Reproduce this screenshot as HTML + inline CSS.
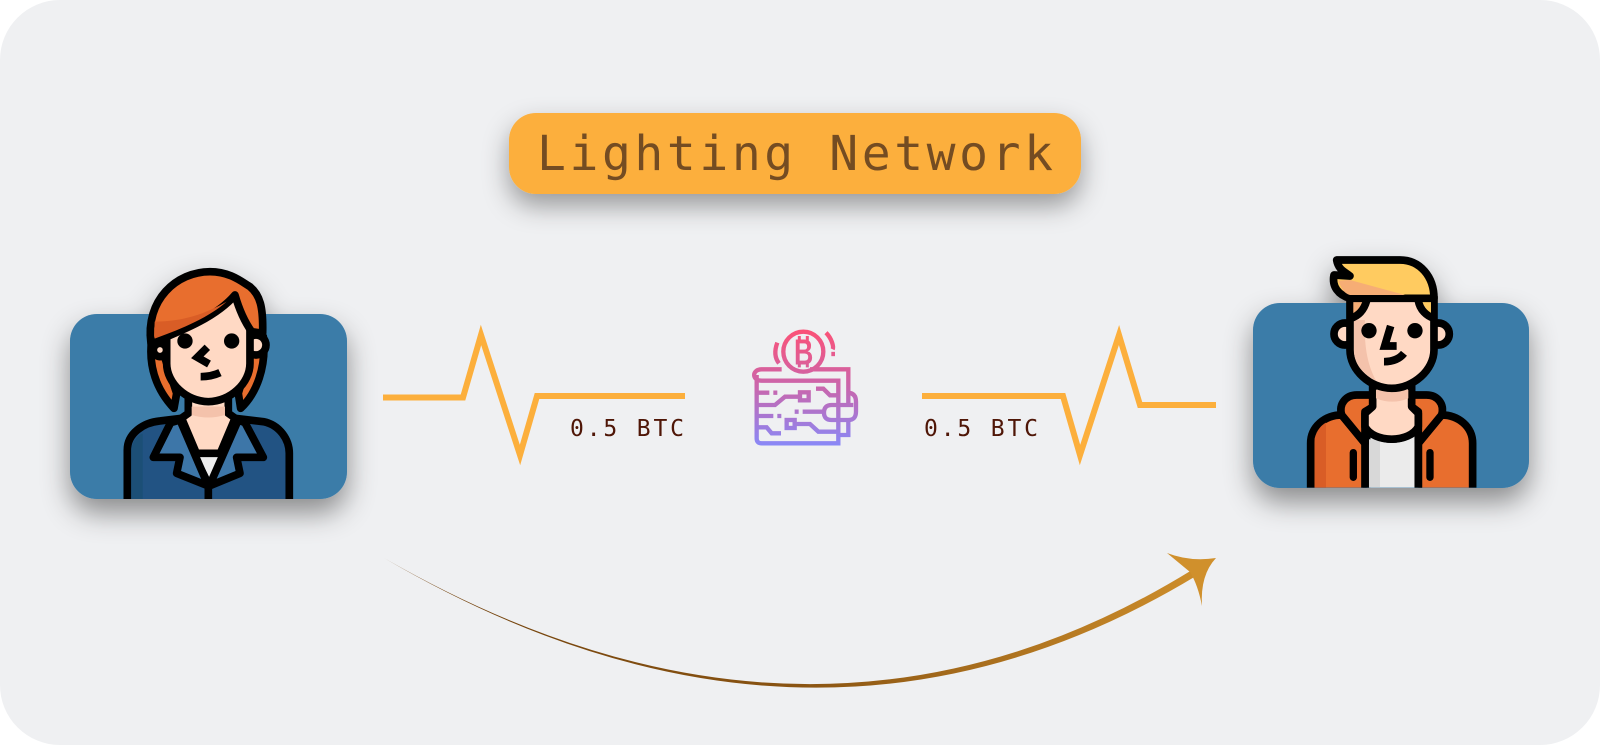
<!DOCTYPE html>
<html><head><meta charset="utf-8"><style>
html,body{margin:0;padding:0;background:#fff;width:1600px;height:745px;overflow:hidden}
svg{display:block}
text{font-family:"DejaVu Sans Mono",monospace}
</style></head><body>
<svg width="1600" height="745" viewBox="0 0 1600 745" xmlns="http://www.w3.org/2000/svg">
<defs>
<filter id="s1" x="-30%" y="-30%" width="160%" height="170%"><feDropShadow dx="0" dy="14" stdDeviation="14" flood-color="#000" flood-opacity=".42"/></filter>
<filter id="s2" x="-20%" y="-60%" width="140%" height="240%"><feDropShadow dx="0" dy="12" stdDeviation="13" flood-color="#000" flood-opacity=".36"/></filter>
<linearGradient id="cg" gradientUnits="userSpaceOnUse" x1="384" y1="600" x2="1216" y2="600"><stop offset="0" stop-color="#6e3f0c"/><stop offset=".5" stop-color="#8a5412"/><stop offset="1" stop-color="#d0902c"/></linearGradient>
<linearGradient id="wg" gradientUnits="userSpaceOnUse" x1="0" y1="60" x2="0" y2="405"><stop offset="0" stop-color="#fb5277"/><stop offset=".5" stop-color="#c966ad"/><stop offset="1" stop-color="#8a88f6"/></linearGradient>
<clipPath id="c1"><rect x="0" y="0" width="930" height="777"/></clipPath>
<clipPath id="c2"><rect x="0" y="0" width="930" height="773"/></clipPath>
</defs>
<rect x="0" y="0" width="1600" height="745" rx="60" fill="#eff0f2"/>

<rect x="509" y="113" width="572" height="81" rx="27" fill="#fcaf3c" filter="url(#s2)"/>
<text x="537" y="170" font-size="48" fill="#744c22" textLength="516" lengthAdjust="spacing">Lighting Network</text>

<polyline points="383,397.5 463,397.5 481,335 520,455 537,396 685,396" fill="none" stroke="#fcaf3c" stroke-width="6" stroke-miterlimit="10"/>
<text x="570" y="436" font-size="23" fill="#4f1607" textLength="114" lengthAdjust="spacing">0.5 BTC</text>
<polyline points="922,396 1063,396 1080,455 1119,335 1140,405 1216,405" fill="none" stroke="#fcaf3c" stroke-width="6" stroke-miterlimit="10"/>
<text x="924" y="436" font-size="23" fill="#4f1607" textLength="114" lengthAdjust="spacing">0.5 BTC</text>

<path d="M384,558 Q812,804 1192,570 L1196,576 Q812,808 384,558Z" fill="url(#cg)"/>
<path d="M1167,553 Q1190,562 1216,558 Q1200,575 1202,606 Q1198,585 1190,572Z" fill="#d0902c"/>

<!-- woman -->
<g filter="url(#s1)">
<rect x="70" y="314" width="277" height="185" rx="27" fill="#3a7ba8"/>
<g transform="translate(50,240) scale(.3333)" stroke="#000" stroke-width="23" stroke-linejoin="round" clip-path="url(#c1)">
<path d="M305,300 C295,380 320,450 372,505 L380,460 L340,340Z" fill="#e86e2f"/>
<path d="M640,290 C650,380 620,460 572,505 L565,460 L600,340Z" fill="#e86e2f"/>
<circle cx="618" cy="315" r="30" fill="#ffd9c4"/>
<circle cx="330" cy="330" r="20" fill="#ffd9c4"/>
<path d="M415,470 L415,520 L380,545 L475,715 L570,545 L535,520 L535,470Z" fill="#ffd9c4"/>
<path d="M425,500 L525,500 L525,525 Q475,540 425,525Z" fill="#f4c2ab" stroke="none"/>
<path d="M350,290 L350,370 C350,430 410,485 475,485 C540,485 600,430 600,370 L600,240 L555,165Z" fill="#ffd9c4"/>
<path d="M303,310 C285,180 380,95 480,95 C540,95 575,125 600,140 C630,165 640,200 638,280 L605,275 C580,240 565,200 555,165 C500,230 400,270 303,310Z" fill="#e86e2f"/>
<path d="M314,296 L314,245 C400,245 470,220 530,185 C480,230 400,265 314,296Z" fill="#d95d26" stroke="none"/>
<circle cx="405" cy="303" r="23" fill="#000" stroke="none"/>
<circle cx="545" cy="303" r="23" fill="#000" stroke="none"/>
<polyline points="472,322 442,352 477,372" fill="none" stroke-linejoin="miter"/>
<path d="M452,410 C480,410 495,405 510,398" fill="none"/>
<path d="M232,790 L232,630 C232,580 280,548 330,543 L395,535 L475,725 L555,535 L640,545 C690,555 718,600 718,640 L718,790Z" fill="#215383"/>
<path d="M244,790 L244,625 C250,600 265,585 278,580 L278,790Z" fill="#1e4f76" stroke="none"/>
<path d="M445,645 L508,645 L478,712Z" fill="#eee" stroke="none"/>
<path d="M445,640 L508,640" fill="none"/>
<path d="M362,548 L310,652 L390,652 L380,700 L475,738 L390,540Z" fill="#3d76a8"/>
<path d="M585,548 L640,652 L560,652 L570,700 L478,738 L565,540Z" fill="#3d76a8"/>
<line x1="475" y1="735" x2="475" y2="790"/>
</g>
</g>

<!-- man -->
<g filter="url(#s1)">
<rect x="1253" y="303" width="276" height="185" rx="27" fill="#3a7ba8"/>
<g transform="translate(1210,230) scale(.3333)" stroke="#000" stroke-width="23" stroke-linejoin="round" clip-path="url(#c2)">
<path d="M302,790 L302,640 C302,590 345,555 395,555 L465,640 L465,790Z" fill="#e86e2f"/>
<path d="M788,790 L788,640 C788,590 745,555 695,555 L625,640 L625,790Z" fill="#e86e2f"/>
<path d="M314,790 L314,625 C320,600 335,585 348,578 L348,790Z" fill="#d95d26" stroke="none"/>
<path d="M470,590 C500,640 590,640 625,590 L625,790 L470,790Z" fill="#ebebeb"/>
<rect x="477" y="628" width="33" height="160" fill="#d8d8d8" stroke="none"/>
<path d="M395,555 C385,520 410,495 440,495 L490,495 L490,530 L465,545 L465,640Z" fill="#e86e2f"/>
<path d="M695,555 C705,520 680,495 650,495 L605,495 L605,530 L625,545 L625,640Z" fill="#e86e2f"/>
<path d="M488,460 L488,530 L465,550 L465,590 C490,640 600,640 625,590 L625,550 L605,530 L605,460Z" fill="#ffd9c4"/>
<path d="M498,480 L595,480 L595,505 Q547,525 498,505Z" fill="#f4c2ab" stroke="none"/>
<line x1="430" y1="668" x2="430" y2="742" stroke-width="22" stroke-linecap="round"/>
<line x1="660" y1="668" x2="660" y2="742" stroke-width="22" stroke-linecap="round"/>
<circle cx="405" cy="312" r="33" fill="#ffd9c4"/>
<circle cx="685" cy="312" r="33" fill="#ffd9c4"/>
<path d="M420,200 L420,360 C420,420 480,475 545,475 C610,475 672,420 672,360 L672,200Z" fill="#ffd9c4"/>
<path d="M432,270 L465,270 C462,340 470,400 498,452 C455,430 432,400 432,360Z" fill="#f4c2ab" stroke="none"/>
<path d="M430,215 L462,215 L430,258Z" fill="#f6ad74" stroke="none"/>
<path d="M635,215 L663,215 L663,258Z" fill="#ffcb60" stroke="none"/>
<path d="M470,212 C462,240 445,258 422,265" fill="none"/>
<path d="M625,212 C630,240 650,258 672,265" fill="none"/>
<path d="M380,90 L570,90 C630,90 672,140 672,205 L420,205 C385,195 365,170 372,135 L420,138 C405,125 385,120 380,90Z" fill="#ffcb60"/>
<path d="M385,152 L420,150 L585,195 L420,195 C400,190 392,170 385,152Z" fill="#f6ad74" stroke="none"/>
<circle cx="477" cy="302" r="23" fill="#000" stroke="none"/>
<circle cx="615" cy="302" r="23" fill="#000" stroke="none"/>
<polyline points="542,288 524,348 560,348" fill="none" stroke-linejoin="miter"/>
<path d="M522,395 C550,395 570,385 582,370" fill="none"/>
</g>
</g>

<!-- wallet -->
<g transform="translate(720,310) scale(.3333)" fill="none" stroke="url(#wg)" stroke-width="13">
<circle cx="250" cy="125" r="60"/>
<path d="M172,98 C162,125 165,145 177,160"/>
<path d="M318,68 C335,85 342,110 338,118"/>
<line x1="334" y1="132" x2="345" y2="132"/>
<text x="222" y="163" font-size="108" font-weight="700" style="font-family:'Liberation Sans',sans-serif" stroke="none" fill="url(#wg)" textLength="58" lengthAdjust="spacingAndGlyphs">B</text>
<path d="M238,78 V92 M262,78 V92 M238,160 V172 M262,160 V172" stroke-width="9"/>
<path d="M185,178 L125,178 C95,178 95,212 125,212 L355,212 L355,400 L125,400 Q110,400 110,385 L110,195"/>
<path d="M270,178 L385,178 L385,285"/>
<path d="M355,375 L385,375 L385,330"/>
<path d="M385,248 Q408,250 408,275 L408,305 Q408,330 385,330 L335,330 Q312,330 312,308 Q312,285 335,285 L400,285"/>
<rect x="240" y="247" width="26" height="24"/>
<rect x="200" y="330" width="24" height="24"/>
<path d="M113,248 L148,248 M160,248 L172,248"/>
<path d="M113,285 L165,285 L195,260 L240,260"/>
<path d="M288,236 L310,236 L330,256 L350,256"/>
<path d="M224,305 L236,305 M248,305 L312,305"/>
<path d="M113,318 L160,318 M172,318 L184,318"/>
<path d="M224,342 L270,342 L295,365 L350,365"/>
<path d="M113,352 L140,352 L155,370 L183,370"/>
</g>
</svg>
</body></html>
